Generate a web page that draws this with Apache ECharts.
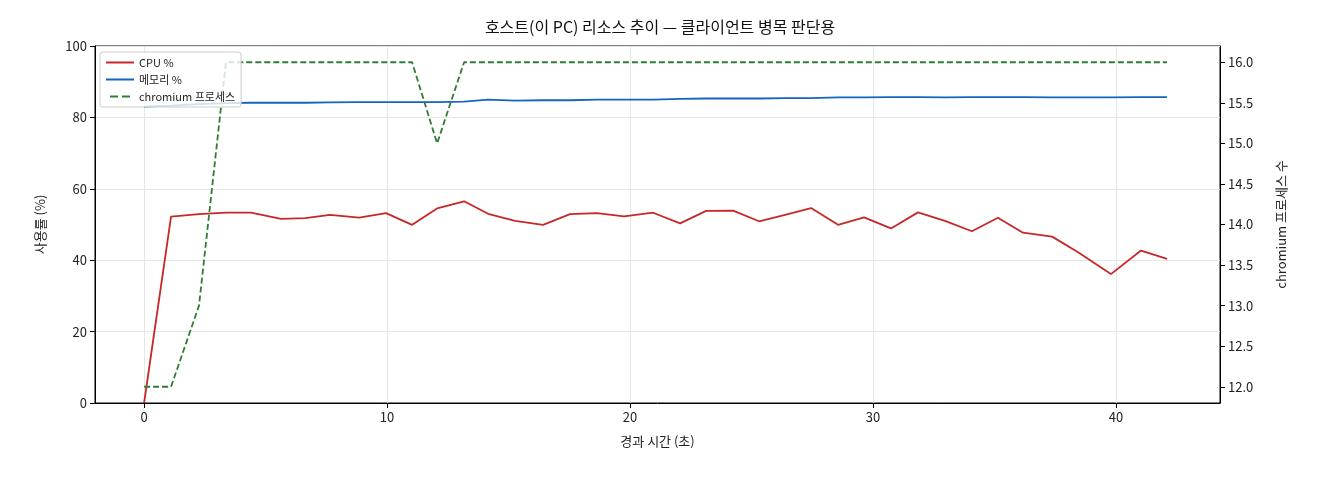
<!DOCTYPE html><html><head><meta charset="utf-8">
<script src="https://cdn.jsdelivr.net/npm/echarts@6/dist/echarts.min.js"></script>
<style>body{margin:0}#c{width:1320px;height:480px}</style></head><body><div id="c"></div>
<script>
const times=[0,1.11,2.26,3.37,4.4,5.64,6.63,7.65,8.85,9.96,11.03,12.06,13.17,14.16,15.27,16.42,17.53,18.64,19.75,20.95,22.06,23.13,24.24,25.31,26.42,27.45,28.56,29.63,30.74,31.85,32.96,34.07,35.14,36.17,37.37,38.44,39.79,41.03,42.1];
const cpu=[0,52.2,52.9,53.3,53.3,51.6,51.8,52.7,51.9,53.2,49.9,54.5,56.5,53.0,51.0,49.9,52.9,53.2,52.3,53.3,50.3,53.8,53.9,50.9,52.8,54.6,49.9,52.0,48.9,53.4,51.0,48.1,51.9,47.7,46.6,42.2,36.1,42.7,40.4];
const mem=[83.0,83.3,83.7,84.0,84.1,84.1,84.1,84.2,84.3,84.3,84.3,84.3,84.4,85.0,84.7,84.8,84.8,85.0,85.0,85.0,85.2,85.3,85.3,85.3,85.4,85.4,85.6,85.6,85.7,85.7,85.6,85.7,85.7,85.7,85.6,85.6,85.6,85.7,85.7];
const procs=[12,12,13,16,16,16,16,16,16,16,16,15,16,16,16,16,16,16,16,16,16,16,16,16,16,16,16,16,16,16,16,16,16,16,16,16,16,16,16];
const xTicks=[0,10,20,30,40];
const rTicks=[12,12.5,13,13.5,14,14.5,15,15.5,16];
const z=(a)=>times.map((t,i)=>[t,a[i]]);
const f='"Noto Sans CJK KR", sans-serif';
const ch=echarts.init(document.getElementById('c'));
ch.setOption({
 animation:false,textStyle:{fontFamily:f},
 title:{text:'호스트(이 PC) 리소스 추이 — 클라이언트 병목 판단용',left:'center',top:14,textStyle:{fontSize:16,fontWeight:'normal',color:'#111'}},
 grid:{left:95,right:100,top:46,bottom:77,show:true,borderColor:'#000',borderWidth:1},
 legend:{left:100,top:52,orient:'vertical',itemGap:6,itemWidth:28,itemHeight:2,textStyle:{fontSize:11,color:'#222'},borderColor:'#ccc',borderWidth:1,borderRadius:3,padding:[5,6],backgroundColor:'rgba(255,255,255,0.8)',
  data:[{name:'CPU %',icon:'rect'},{name:'메모리 %',icon:'rect'},{name:'chromium 프로세스',icon:'path://M0,0H8V2H0ZM12,0H20V2H12Z'}]},
 xAxis:{type:'value',min:-2.02,max:44.28,name:'경과 시간 (초)',nameLocation:'middle',nameGap:32,nameTextStyle:{fontSize:13,color:'#222'},
  axisLine:{onZero:false,lineStyle:{color:'#000'}},axisTick:{customValues:xTicks,lineStyle:{color:'#000'}},axisLabel:{customValues:xTicks,fontSize:13,color:'#222'},
  splitLine:{show:true,lineStyle:{color:'#e6e6e6'}}},
 yAxis:[{type:'value',min:0,max:100,interval:20,name:'사용률 (%)',nameLocation:'middle',nameGap:48,nameTextStyle:{fontSize:13,color:'#222'},
  axisLine:{show:true,onZero:false,lineStyle:{color:'#000'}},axisTick:{show:true,lineStyle:{color:'#000'}},axisLabel:{fontSize:13,color:'#222'},splitLine:{lineStyle:{color:'#e6e6e6'}}},
  {type:'value',min:11.8,max:16.2,position:'right',name:'chromium 프로세스 수',nameLocation:'middle',nameGap:55,nameRotate:90,nameTextStyle:{fontSize:13,color:'#222'},
  axisLine:{show:true,onZero:false,lineStyle:{color:'#000'}},axisTick:{show:true,customValues:rTicks,lineStyle:{color:'#000'}},axisLabel:{customValues:rTicks,fontSize:13,color:'#222',formatter:v=>v.toFixed(1)},splitLine:{show:false}}],
 series:[
  {name:'CPU %',type:'line',data:z(cpu),showSymbol:false,lineStyle:{color:'#c62828',width:1.8},itemStyle:{color:'#c62828'}},
  {name:'메모리 %',type:'line',data:z(mem),showSymbol:false,lineStyle:{color:'#1565c0',width:1.8},itemStyle:{color:'#1565c0'}},
  {name:'chromium 프로세스',type:'line',yAxisIndex:1,data:z(procs),showSymbol:false,lineStyle:{color:'#2e7d32',width:1.8,type:[6,3]},itemStyle:{color:'#2e7d32'}}
 ]});
</script></body></html>
